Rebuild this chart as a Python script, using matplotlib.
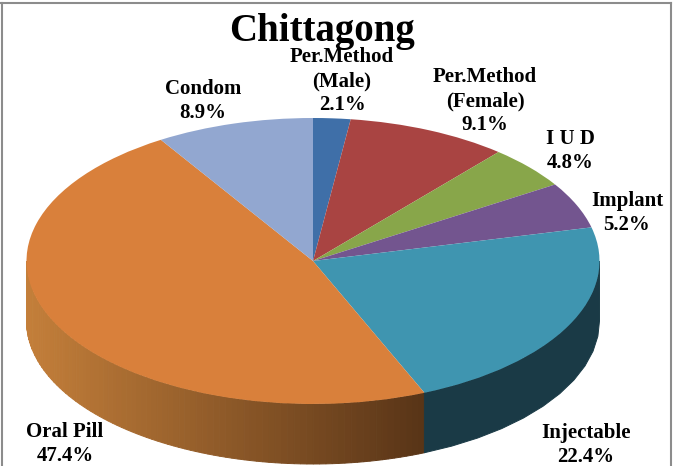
import matplotlib
matplotlib.use("Agg")
import matplotlib.pyplot as plt
import numpy as np

title = "Chittagong"
categories = ["Per.Method\n(Male)", "Per.Method\n(Female)", "I U D", "Implant",
              "Injectable", "Oral Pill", "Condom"]
values = [2.1, 9.1, 4.8, 5.2, 22.4, 47.4, 8.9]
colors = ["#3f6fa8", "#a94442", "#88a64a", "#73558f", "#3f95b0", "#d9803b", "#92a7d0"]
# label centres in image pixels
label_x = [342, 485, 570, 627, 586, 65, 203]
label_y = [81, 101, 151, 213, 445, 444, 101]

W, H = 673, 466
cx, cy, rx, ry, depth = 313, 261, 286.5, 143, 60

plt.rcParams['font.family'] = ['Liberation Serif', 'DejaVu Serif']
fig = plt.figure(figsize=(W / 100, H / 100), dpi=100)
ax = fig.add_axes([0, 0, 1, 1])

# top face is a normal pie, squashed by using different x and y scales
ax.pie(values, colors=colors, startangle=90, counterclock=False, radius=1,
       wedgeprops={"linewidth": 0}, normalize=True)
ax.set_aspect("auto")
ax.set_xlim(-cx / rx, (W - cx) / rx)
ax.set_ylim((cy - H) / ry, cy / ry)
ax.set_axis_off()

d = depth / ry
ends = np.cumsum(values) / np.sum(values) * 360  # clockwise from the top


def side(a0, a1, c):
    t = np.linspace(np.radians(a0), np.radians(a1), 12)
    x = np.sin(t)
    y = np.cos(t)
    ax.fill(np.r_[x, x[::-1]], np.r_[y, y[::-1] - d], color=c, lw=0.7, zorder=0)


# oral pill side, gets darker towards the right
light = np.array(matplotlib.colors.to_rgb("#c47f3a"))
dark = np.array(matplotlib.colors.to_rgb("#583417"))
steps = np.linspace(270, ends[4], 90)
xr = np.sin(np.radians(ends[4]))
for a0, a1 in zip(steps[:-1], steps[1:]):
    f = (xr - np.sin(np.radians((a0 + a1) / 2))) / (xr + 1)
    side(a0, a1, dark + (light - dark) * f)

# injectable side, flat dark colour
side(90, ends[4], "#1a3a46")

for name, v, px, py in zip(categories, values, label_x, label_y):
    ax.text((px - cx) / rx, (cy - py) / ry, f"{name}\n{v}%", ha="center", va="center",
            fontsize=15, fontweight="bold", linespacing=1.26, color="black", zorder=5)

ax.text((322 - cx) / rx, (cy - 32) / ry, title, ha="center", va="center",
        fontsize=28, fontweight="bold", color="black", zorder=4)

# chart frame, bottom is cropped off in the picture
fig.add_artist(plt.Line2D([1.5 / W, 1.5 / W], [0, 1 - 3 / H], color="#8c8c8c", lw=1.5))
fig.add_artist(plt.Line2D([1 / W, 1 - 2 / W], [1 - 3 / H, 1 - 3 / H], color="#8c8c8c", lw=1.5))
fig.add_artist(plt.Line2D([1 - 2 / W, 1 - 2 / W], [0, 1 - 3 / H], color="#8c8c8c", lw=1.5))

fig.savefig("out.png", dpi=100)
